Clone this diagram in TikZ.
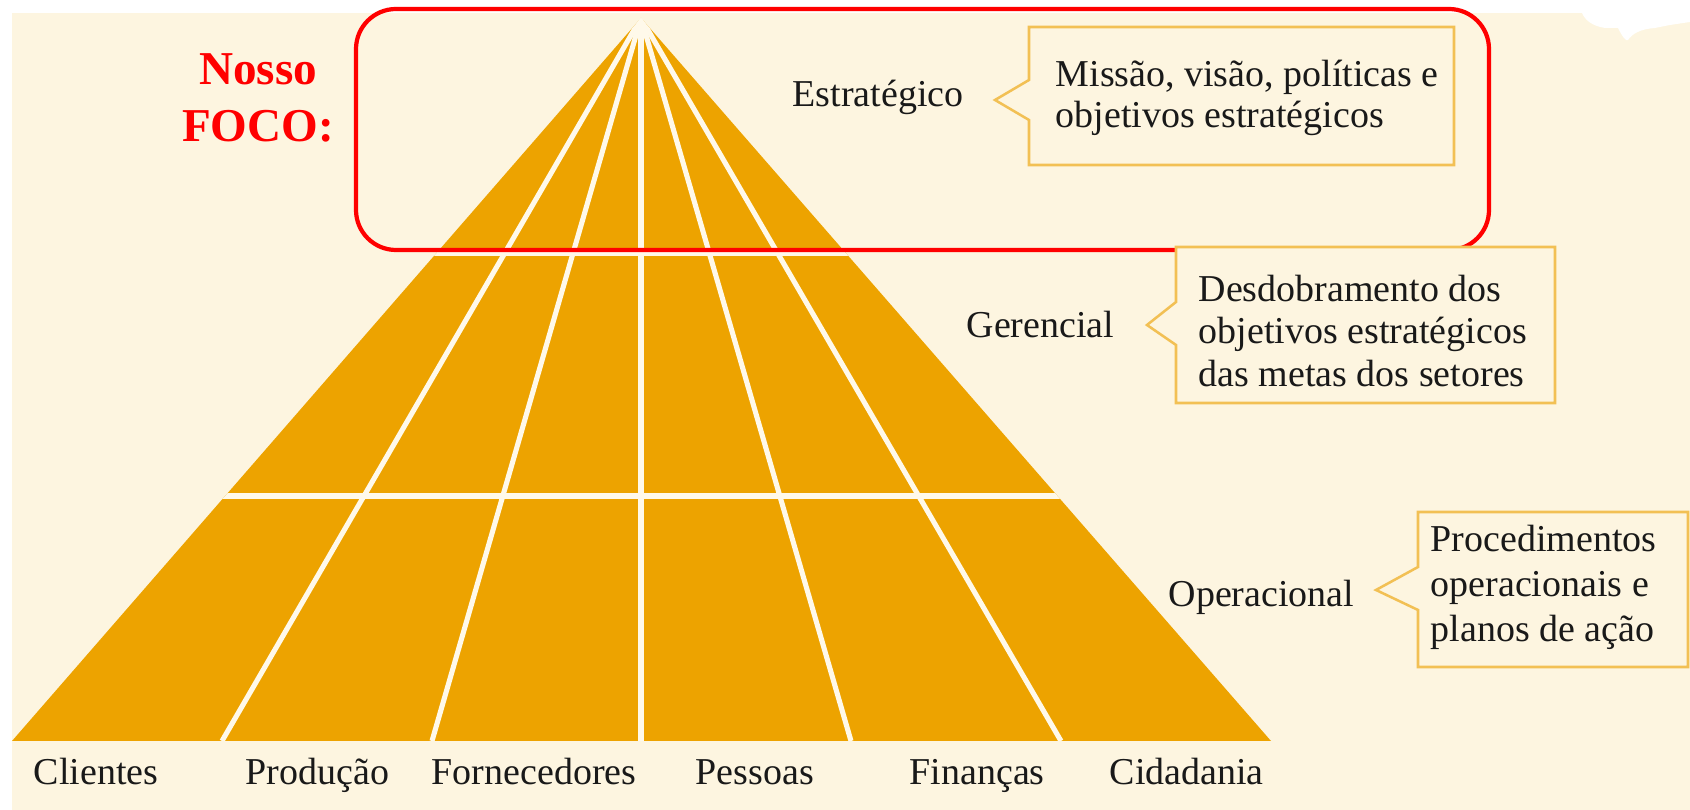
\documentclass[tikz,border=0pt]{standalone}
\usepackage{fontspec}
\setmainfont{Liberation Serif}
\definecolor{cream}{RGB}{253,245,224}
\definecolor{divcol}{RGB}{255,249,234}
\definecolor{pyr}{RGB}{237,163,0}
\definecolor{boxline}{RGB}{242,192,84}
\definecolor{txt}{RGB}{25,25,25}
\definecolor{focus}{RGB}{255,0,0}
\begin{document}
\begin{tikzpicture}[x=0.01cm,y=-0.01cm,
  lbl/.style={font=\fontsize{10.8pt}{13pt}\selectfont, inner sep=0pt, anchor=base west, text=txt},
  foco/.style={font=\fontsize{13.4pt}{16pt}\selectfont\bfseries, inner sep=0pt, anchor=base, text=focus},
  divider/.style={draw=divcol, line width=1.45pt},
  hdivider/.style={draw=divcol, line width=1.7pt},
  callout/.style={fill=cream, draw=boxline, line width=0.72pt, line join=miter},
  focusbox/.style={draw=focus, line width=1.2pt, rounded corners=0.4cm}]
\useasboundingbox (0,0) rectangle (1690,810);
% background
\fill[white] (0,0) rectangle (1690,810);
\fill[cream] (12,13) rectangle (1690,810);
\fill[white] (1582,0) -- (1582,13) .. controls (1585,20) and (1592,26) .. (1605,28)
  -- (1618,28) .. controls (1622,36) and (1626,42) .. (1628,40)
  .. controls (1632,34) and (1640,29) .. (1655,28) -- (1670,25) -- (1690,22) -- (1690,0) -- cycle;
% pyramid
\coordinate (apex) at (641,18);
\coordinate (bl) at (12,741);
\coordinate (br) at (1271,741);
\fill[pyr] (apex) -- (bl) -- (br) -- cycle;
\begin{scope}
  \clip (apex) -- (bl) -- (br) -- cycle;
  \foreach \bx/\nm in {222/d1,432/d2,641/d3,851/d4,1061/d5} {
    \coordinate (\nm) at (\bx,741);
    \draw[divider] (apex) -- (\nm);
  }
  \coordinate (h1a) at (0,253); \coordinate (h1b) at (1300,253);
  \coordinate (h2a) at (0,496); \coordinate (h2b) at (1300,496);
  \draw[hdivider] (h1a) -- (h1b);
  \draw[hdivider] (h2a) -- (h2b);
\end{scope}
% focus box
\draw[focusbox] (356,9) rectangle (1489,250);
\node[foco] (nosso) at (258,85) {Nosso};
\node[foco] (foco) at (258,142) {FOCO:};
% level labels
\node[lbl] (estr) at (792,107) {Estratégico};
\node[lbl] (ger) at (966,338) {Gerencial};
\node[lbl] (oper) at (1168,607) {Operacional};
% callouts
\draw[callout] (1029,27) -- (1454,27) -- (1454,165) -- (1029,165) -- (1029,120) -- (995,100) -- (1029,80) -- cycle;
\node[lbl] (c1a) at (1055,87) {Missão, visão, políticas e};
\node[lbl] (c1b) at (1055,128) {objetivos estratégicos};
\draw[callout] (1176,247) -- (1555,247) -- (1555,403) -- (1176,403) -- (1176,345) -- (1147,325) -- (1176,302) -- cycle;
\node[lbl] (c2a) at (1198,302) {Desdobramento dos};
\node[lbl] (c2b) at (1198,344) {objetivos estratégicos};
\node[lbl] (c2c) at (1198,387) {das metas dos setores};
\draw[callout] (1418,512) -- (1688,512) -- (1688,667) -- (1418,667) -- (1418,610) -- (1376,590) -- (1418,567) -- cycle;
\node[lbl] (c3a) at (1430,552) {Procedimentos};
\node[lbl] (c3b) at (1430,597) {operacionais e};
\node[lbl] (c3c) at (1430,642) {planos de ação};
% bottom labels
\node[lbl] (cli) at (33,785) {Clientes};
\node[lbl] (pro) at (245,785) {Produção};
\node[lbl] (for) at (431,785) {Fornecedores};
\node[lbl] (pes) at (695,785) {Pessoas};
\node[lbl] (fin) at (909,785) {Finanças};
\node[lbl] (cid) at (1109,785) {Cidadania};
\end{tikzpicture}
\end{document}
